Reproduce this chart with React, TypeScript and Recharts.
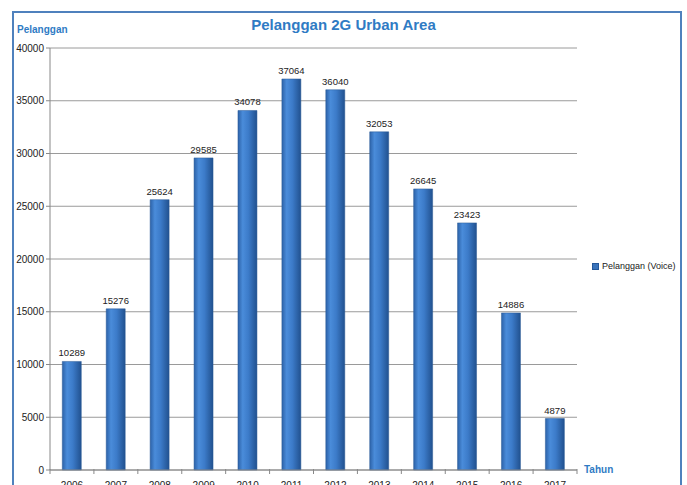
import { BarChart, Bar, XAxis, YAxis, CartesianGrid, LabelList } from 'recharts'

const years = ['2006', '2007', '2008', '2009', '2010', '2011', '2012', '2013', '2014', '2015', '2016', '2017']
const pelanggan = [10289, 15276, 25624, 29585, 34078, 37064, 36040, 32053, 26645, 23423, 14886, 4879]
const yTicks = [0, 5000, 10000, 15000, 20000, 25000, 30000, 35000, 40000]

const data = years.map((year, i) => ({ year, value: pelanggan[i] }))

const FONT = '"Liberation Sans", Arial, sans-serif'
const BLUE = '#2f7bc4'
const PLOT_W = 527

const YearTick = ({ x, y, payload, index }: any) => {
  const half = PLOT_W / years.length / 2
  return (
    <g>
      <line x1={x - half} y1={y - 9} x2={x - half} y2={y - 4} stroke="#888" />
      {index === years.length - 1 && (
        <line x1={x + half} y1={y - 9} x2={x + half} y2={y - 4} stroke="#888" />
      )}
      <text x={x} y={y + 11} textAnchor="middle" fontSize={10} fill="#222" fontFamily={FONT}>
        {payload.value}
      </text>
    </g>
  )
}

export default function App() {
  return (
    <div style={{ position: 'absolute', left: 0, top: 0, width: 687, height: 485, overflow: 'hidden', background: '#fff' }}>
      <div style={{ position: 'absolute', left: 12, top: 11, width: 666, height: 500, border: '2px solid #4f81bd' }} />
      <div style={{ position: 'absolute', left: 0, width: 687, top: 16, textAlign: 'center', fontFamily: FONT, fontWeight: 'bold', fontSize: 15, color: BLUE }}>
        Pelanggan 2G Urban Area
      </div>
      <div style={{ position: 'absolute', left: 17, top: 24, fontFamily: FONT, fontWeight: 'bold', fontSize: 10, color: BLUE }}>
        Pelanggan
      </div>
      <div style={{ position: 'absolute', left: 584, top: 464, fontFamily: FONT, fontWeight: 'bold', fontSize: 10, color: BLUE }}>
        Tahun
      </div>
      <div style={{ position: 'absolute', left: 592, top: 261, display: 'flex', alignItems: 'center', fontFamily: FONT, fontSize: 9, color: '#222' }}>
        <span style={{ width: 5, height: 5, background: '#3a74bb', border: '1px solid #24589a', marginRight: 3 }} />
        Pelanggan (Voice)
      </div>
      <BarChart
        width={687}
        height={485}
        data={data}
        margin={{ top: 48, right: 110, bottom: 0, left: 0 }}
        barCategoryGap="28%"
        style={{ position: 'absolute', left: 0, top: 0 }}
      >
        <defs>
          <linearGradient id="barGrad" x1="0" y1="0" x2="1" y2="0">
            <stop offset="0%" stopColor="#2c62a8" />
            <stop offset="25%" stopColor="#4a8cda" />
            <stop offset="55%" stopColor="#3c7bc9" />
            <stop offset="100%" stopColor="#21518f" />
          </linearGradient>
        </defs>
        <CartesianGrid vertical={false} stroke="#9a9a9a" />
        <XAxis
          dataKey="year"
          height={15}
          stroke="#888"
          tickLine={false}
          tick={<YearTick />}
          interval={0}
        />
        <YAxis
          width={50}
          domain={[0, 40000]}
          ticks={yTicks}
          stroke="#888"
          tickSize={4}
          tick={{ fontSize: 10, fill: '#222', fontFamily: FONT }}
        />
        <Bar dataKey="value" name="Pelanggan (Voice)" fill="url(#barGrad)" stroke="#2a5a96" strokeWidth={0.5} isAnimationActive={false}>
          <LabelList dataKey="value" position="top" offset={5} fontSize={9.5} fill="#222" fontFamily={FONT} />
        </Bar>
      </BarChart>
    </div>
  )
}
